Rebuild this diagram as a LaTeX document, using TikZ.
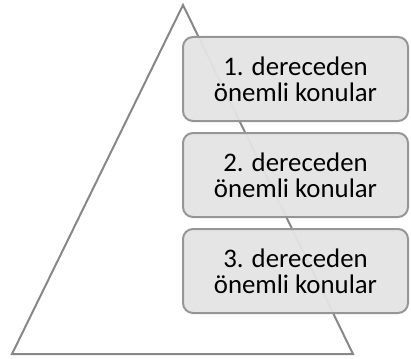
\documentclass[tikz,border=0pt]{standalone}
\usepackage{fontspec}
\setmainfont{Carlito}
\definecolor{edgegray}{RGB}{135,135,135}
\definecolor{boxgray}{RGB}{228,228,228}
\definecolor{boxline}{RGB}{150,150,150}
\tikzset{
  levelbox/.style={draw=boxline,line width=1pt,fill=boxgray,fill opacity=0.95,text opacity=1,
    rounded corners=5pt,minimum width=112.5pt,minimum height=42pt,align=center,
    font=\fontsize{13.4}{13.2}\selectfont,inner sep=0pt}
}
\begin{document}
\begin{tikzpicture}[x=0.5pt,y=-0.5pt]
\useasboundingbox (0,0) rectangle (411,358);
\draw[edgegray,line width=1pt,line join=miter] (183,5) -- (353,354) -- (12,354) -- cycle;
\node[levelbox] (first) at (295.5,79) {1. dereceden\\önemli konular};
\node[levelbox] (second) at (295.5,175) {2. dereceden\\önemli konular};
\node[levelbox] (third) at (295.5,271) {3. dereceden\\önemli konular};
\end{tikzpicture}
\end{document}
